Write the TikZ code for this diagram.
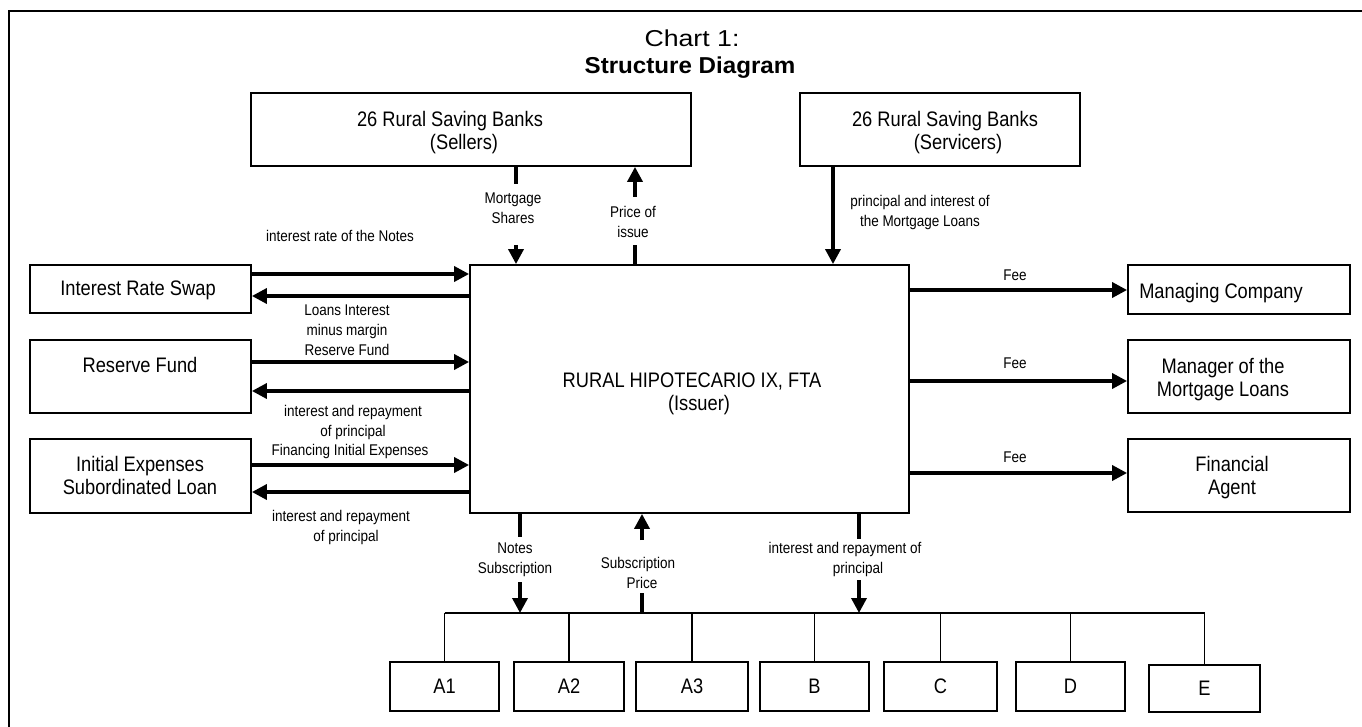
\documentclass[tikz,border=0pt]{standalone}
\usepackage{fontspec}
\setmainfont{Liberation Sans}[FakeStretch=0.87]
\newfontfamily\titlelight{Liberation Sans}[FakeStretch=1.16]
\newfontfamily\titlebold{Liberation Sans}[FakeStretch=1.05]
\usetikzlibrary{arrows.meta}
\begin{document}
\begin{tikzpicture}[x=1pt,y=-1pt,
  box/.style={draw, line width=1.8pt, inner sep=0pt},
  boxtext/.style={font=\fontsize{21}{23}\selectfont, align=center, inner sep=0pt},
  lbl/.style={font=\fontsize{15.5}{20}\selectfont, align=center, inner sep=0pt},
  arr/.style={line width=3.5pt, -{Triangle[length=15pt,width=15pt]}},
  shaft/.style={line width=3.5pt},
  bus/.style={line width=2pt},
  drop/.style={line width=1.6pt},
  frame/.style={line width=2.5pt}]
\useasboundingbox (0,0) rectangle (1362,727);
% frame
\coordinate (fbl) at (9,727);
\coordinate (ftl) at (9,11);
\coordinate (ftr) at (1362,11);
\draw[frame] (fbl) -- (ftl) -- (ftr);
% titles
\node[inner sep=0pt, font=\titlelight\fontsize{23}{26}\selectfont] (t1) at (692,38.5) {Chart 1:};
\node[inner sep=0pt, font=\titlebold\bfseries\fontsize{23}{26}\selectfont] (t2) at (690,67.5) {Structure Diagram};
% boxes
\node[box, minimum width=440pt, minimum height=73pt] (sellers) at (471,129.5) {};
\node[boxtext] (sellerst) at (450,132.5) {26 Rural Saving Banks\\\hspace*{28pt}(Sellers)};
\node[box, minimum width=280pt, minimum height=73pt] (servicers) at (940,129.5) {};
\node[boxtext] (servicerst) at (945,132.5) {26 Rural Saving Banks\\\hspace*{26pt}(Servicers)};
\node[box, minimum width=439pt, minimum height=248pt] (issuer) at (689.5,389) {};
\node[boxtext] (issuert) at (692,393.5) {RURAL HIPOTECARIO IX, FTA\\\hspace*{14pt}(Issuer)};
\node[box, minimum width=221pt, minimum height=48pt] (irs) at (140.5,289) {};
\node[boxtext] (irst) at (138,290) {Interest Rate Swap};
\node[box, minimum width=221pt, minimum height=73pt] (rf) at (140.5,376.5) {};
\node[boxtext] (rft) at (140,365) {Reserve Fund};
\node[box, minimum width=221pt, minimum height=74pt] (ie) at (140.5,476) {};
\node[boxtext] (iet) at (140,475) {Initial Expenses\\Subordinated Loan};
\node[box, minimum width=222pt, minimum height=49pt] (mc) at (1239,289.5) {};
\node[boxtext] (mct) at (1221,293) {Managing Company};
\node[box, minimum width=222pt, minimum height=73pt] (mgr) at (1239,376.5) {};
\node[boxtext] (mgrt) at (1223,379.5) {Manager of the\\Mortgage Loans};
\node[box, minimum width=222pt, minimum height=73pt] (fa) at (1239,475.5) {};
\node[boxtext] (fat) at (1232,477.5) {Financial\\Agent};
% bottom boxes
\node[box, boxtext, minimum width=109pt, minimum height=49pt] (A1) at (444.5,686.5) {A1};
\node[box, boxtext, minimum width=110pt, minimum height=49pt] (A2) at (569,686.5) {A2};
\node[box, boxtext, minimum width=112pt, minimum height=49pt] (A3) at (692,686.5) {A3};
\node[box, boxtext, minimum width=109pt, minimum height=49pt] (B) at (814.5,686.5) {B};
\node[box, boxtext, minimum width=113pt, minimum height=49pt] (C) at (940.5,686.5) {C};
\node[box, boxtext, minimum width=109pt, minimum height=49pt] (D) at (1070.5,686.5) {D};
\node[box, boxtext, minimum width=111pt, minimum height=47pt] (E) at (1204.5,688.5) {E};
% left arrows
\draw[arr] (irs.east |- 0,274) -- (issuer.west |- 0,274);
\draw[arr] (issuer.west |- 0,296) -- (irs.east |- 0,296);
\draw[arr] (rf.east |- 0,362) -- (issuer.west |- 0,362);
\draw[arr] (issuer.west |- 0,391) -- (rf.east |- 0,391);
\draw[arr] (ie.east |- 0,465) -- (issuer.west |- 0,465);
\draw[arr] (issuer.west |- 0,492) -- (ie.east |- 0,492);
% right arrows
\draw[arr] (issuer.east |- 0,290) -- (mc.west |- 0,290);
\draw[arr] (issuer.east |- 0,381) -- (mgr.west |- 0,381);
\draw[arr] (issuer.east |- 0,473) -- (fa.west |- 0,473);
% top arrows
\coordinate (ms1) at (516,184);
\coordinate (ms2) at (516,245);
\draw[shaft] (sellers.south -| ms1) -- (ms1);
\draw[arr] (ms2) -- (issuer.north -| ms2);
\coordinate (pi1) at (635,245);
\coordinate (pi2) at (635,197);
\draw[shaft] (issuer.north -| pi1) -- (pi1);
\draw[arr] (pi2) -- (sellers.south -| pi2);
\coordinate (sv) at (833,0);
\draw[arr] (servicers.south -| sv) -- (issuer.north -| sv);
% bus and drops
\coordinate (busy) at (0,613);
\draw[bus] (A1.north |- busy) -- (E.north |- busy);
\foreach \n in {A1,A2,A3,B,C,D,E} \draw[drop] (\n.north) -- (\n.north |- busy);
% bottom arrows
\coordinate (ns1) at (520,537);
\coordinate (ns2) at (520,582);
\draw[shaft] (issuer.south -| ns1) -- (ns1);
\draw[arr] (ns2) -- (ns2 |- busy);
\coordinate (sp1) at (642,593);
\coordinate (sp2) at (642,540);
\draw[shaft] (sp1 |- busy) -- (sp1);
\draw[arr] (sp2) -- (issuer.south -| sp2);
\coordinate (pr1) at (859,539);
\coordinate (pr2) at (859,580);
\draw[shaft] (issuer.south -| pr1) -- (pr1);
\draw[arr] (pr2) -- (pr2 |- busy);
% labels
\node[lbl] (l1) at (340,236) {interest rate of the Notes};
\node[lbl] (l2) at (347,322) {Loans Interest\\minus margin};
\node[lbl] (l3) at (347,350) {Reserve Fund};
\node[lbl] (l4) at (353,422.5) {interest and repayment\\of principal};
\node[lbl] (l5) at (350,451) {Financing Initial Expenses};
\node[lbl] (l6) at (341,527.5) {interest and repayment\\\hspace*{10pt}of principal};
\node[lbl] (f1) at (1015,275) {Fee};
\node[lbl] (f2) at (1015,363) {Fee};
\node[lbl] (f3) at (1015,457) {Fee};
\node[lbl] (l7) at (920,212.5) {principal and interest of\\the Mortgage Loans};
\node[lbl] (l8) at (513,208) {Mortgage\\Shares};
\node[lbl] (l9) at (633,221.5) {Price of\\issue};
\node[lbl] (l10) at (515,560) {Notes\\Subscription};
\node[lbl] (l11) at (638,573) {Subscription\\\hspace*{8pt}Price};
\node[lbl] (l12) at (845,559) {interest and repayment of\\\hspace*{26pt}principal};
\end{tikzpicture}
\end{document}
